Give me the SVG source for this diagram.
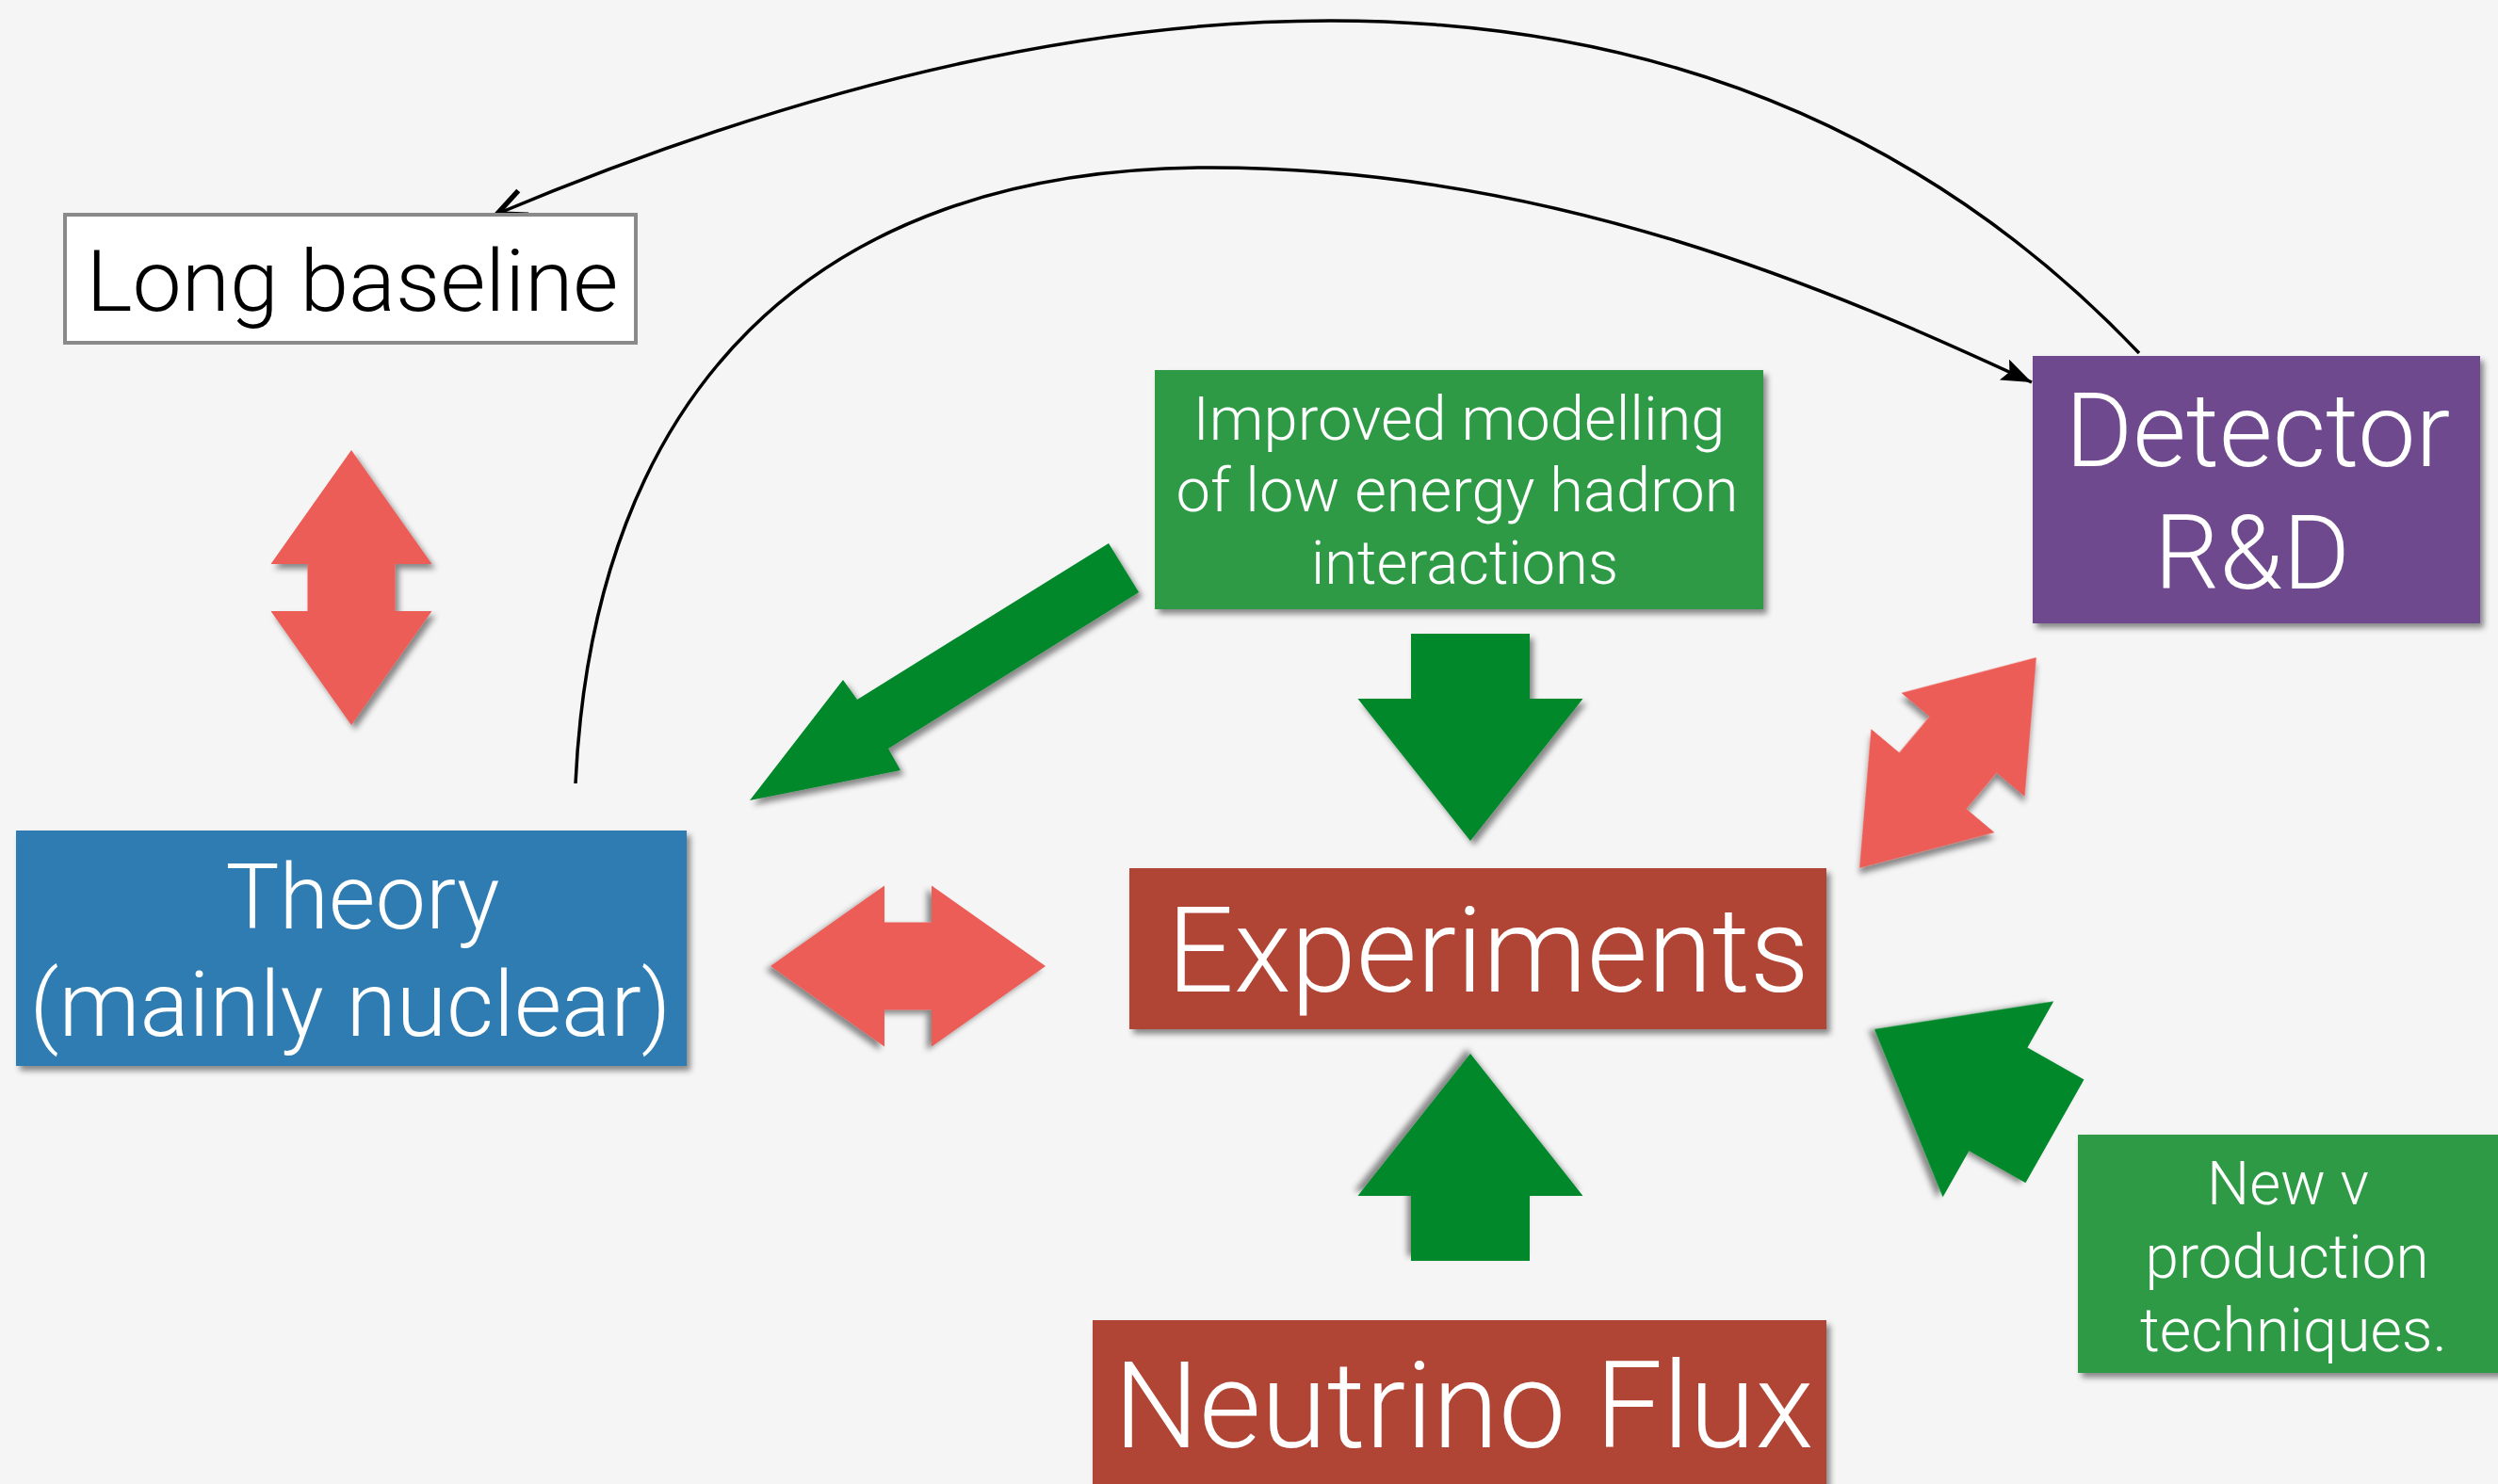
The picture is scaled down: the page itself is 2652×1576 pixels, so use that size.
<svg xmlns="http://www.w3.org/2000/svg" width="2652" height="1576" viewBox="0 0 2652 1576">
  <style>
    .lbl { font-family: "Roboto", "Liberation Sans", Arial, sans-serif; font-weight: 300; fill: #ffffff; text-anchor: middle; }
    .dark { fill: #000000; }
    .red { fill: #eb5d56; }
    .grn { fill: #06882c; }
    .conn { fill: none; stroke: #000000; stroke-width: 3.5; }
  </style>
  <defs>
    <filter id="sh" x="-20%" y="-20%" width="140%" height="140%">
      <feDropShadow dx="4" dy="5" stdDeviation="3" flood-color="#000000" flood-opacity="0.45"/>
    </filter>
    <marker id="headFill" markerUnits="userSpaceOnUse" markerWidth="40" markerHeight="30" refX="32" refY="12" orient="auto">
      <path d="M0,0 L32,12 L0,24 L6,12 z" fill="#000000"/>
    </marker>
    <marker id="headOpen" markerUnits="userSpaceOnUse" markerWidth="44" markerHeight="40" refX="34" refY="17" orient="auto">
      <path d="M4,3 L34,17 L4,31" fill="none" stroke="#000000" stroke-width="5.5" stroke-linejoin="miter"/>
    </marker>
    <polygon id="dbl" points="0,-146 85.5,-25 46.5,-25 46.5,25 85.5,25 0,146 -85.5,25 -46.5,25 -46.5,-25 -85.5,-25"/>
    <polygon id="blk" points="0,0 119.5,-151 63,-151 63,-220 -63,-220 -63,-151 -119.5,-151"/>
  </defs>

  <rect x="0" y="0" width="2652" height="1576" fill="#f5f5f5"/>

  <g id="connectors">
    <path class="conn" d="M2271,375 C1871,-45 1272,-85 528,227" marker-end="url(#headOpen)"/>
    <path class="conn" d="M611,832 C630,420 860,178 1285,178 C1650,178 1950,310 2157,406" marker-end="url(#headFill)"/>
    <use href="#dbl" class="red" filter="url(#sh)" transform="translate(373,624)"/>
    <use href="#dbl" class="red" filter="url(#sh)" transform="translate(964,1026) rotate(90)"/>
    <use href="#dbl" class="red" filter="url(#sh)" transform="translate(2068,810) rotate(40)"/>
    <polygon class="grn" filter="url(#sh)" points="796,850 895,722 910,743 1177,577 1209,629 943,795 956,818"/>
    <use href="#blk" class="grn" filter="url(#sh)" transform="translate(1561,893)"/>
    <use href="#blk" class="grn" filter="url(#sh)" transform="translate(1561,1119) rotate(180)"/>
    <use href="#blk" class="grn" filter="url(#sh)" transform="translate(1990,1093) rotate(119.5)"/>
  </g>

  <g id="long-baseline">
    <rect x="69" y="228" width="606" height="136" fill="#ffffff" stroke="#8a8a8a" stroke-width="4"/>
    <text class="lbl dark" x="374" y="330" font-size="91" textLength="565" lengthAdjust="spacingAndGlyphs">Long baseline</text>
  </g>

  <g id="detector">
    <rect x="2158" y="378" width="475" height="284" fill="#6e4a8d" filter="url(#sh)"/>
    <text class="lbl" x="2397" y="495" font-size="109" textLength="409" lengthAdjust="spacingAndGlyphs">Detector</text>
    <text class="lbl" x="2391" y="625" font-size="109" textLength="208" lengthAdjust="spacingAndGlyphs">R&amp;D</text>
  </g>

  <g id="modelling">
    <rect x="1226" y="393" width="646" height="254" fill="#2e9a44" filter="url(#sh)"/>
    <text class="lbl" x="1549" y="467" font-size="65" textLength="565" lengthAdjust="spacingAndGlyphs">Improved modelling</text>
    <text class="lbl" x="1547" y="543" font-size="65" textLength="597" lengthAdjust="spacingAndGlyphs">of low energy hadron</text>
    <text class="lbl" x="1555" y="620" font-size="65" textLength="326" lengthAdjust="spacingAndGlyphs">interactions</text>
  </g>

  <g id="theory">
    <rect x="17" y="882" width="712" height="250" fill="#2f7bb2" filter="url(#sh)"/>
    <text class="lbl" x="385" y="986" font-size="96" textLength="291" lengthAdjust="spacingAndGlyphs">Theory</text>
    <text class="lbl" x="372" y="1100" font-size="96" textLength="681" lengthAdjust="spacingAndGlyphs">(mainly nuclear)</text>
  </g>

  <g id="experiments">
    <rect x="1199" y="922" width="740" height="171" fill="#b04434" filter="url(#sh)"/>
    <text class="lbl" x="1580" y="1053" font-size="127" textLength="682" lengthAdjust="spacingAndGlyphs">Experiments</text>
  </g>

  <g id="flux">
    <rect x="1160" y="1402" width="779" height="200" fill="#b04434" filter="url(#sh)"/>
    <text class="lbl" x="1554" y="1537" font-size="128" textLength="743" lengthAdjust="spacingAndGlyphs">Neutrino Flux</text>
  </g>

  <g id="production">
    <rect x="2206" y="1205" width="460" height="253" fill="#2e9a44" filter="url(#sh)"/>
    <text class="lbl" x="2429" y="1279" font-size="64" textLength="172" lengthAdjust="spacingAndGlyphs">New v</text>
    <text class="lbl" x="2428" y="1357" font-size="64" textLength="301" lengthAdjust="spacingAndGlyphs">production</text>
    <text class="lbl" x="2435" y="1435" font-size="64" textLength="326" lengthAdjust="spacingAndGlyphs">techniques.</text>
  </g>
</svg>
